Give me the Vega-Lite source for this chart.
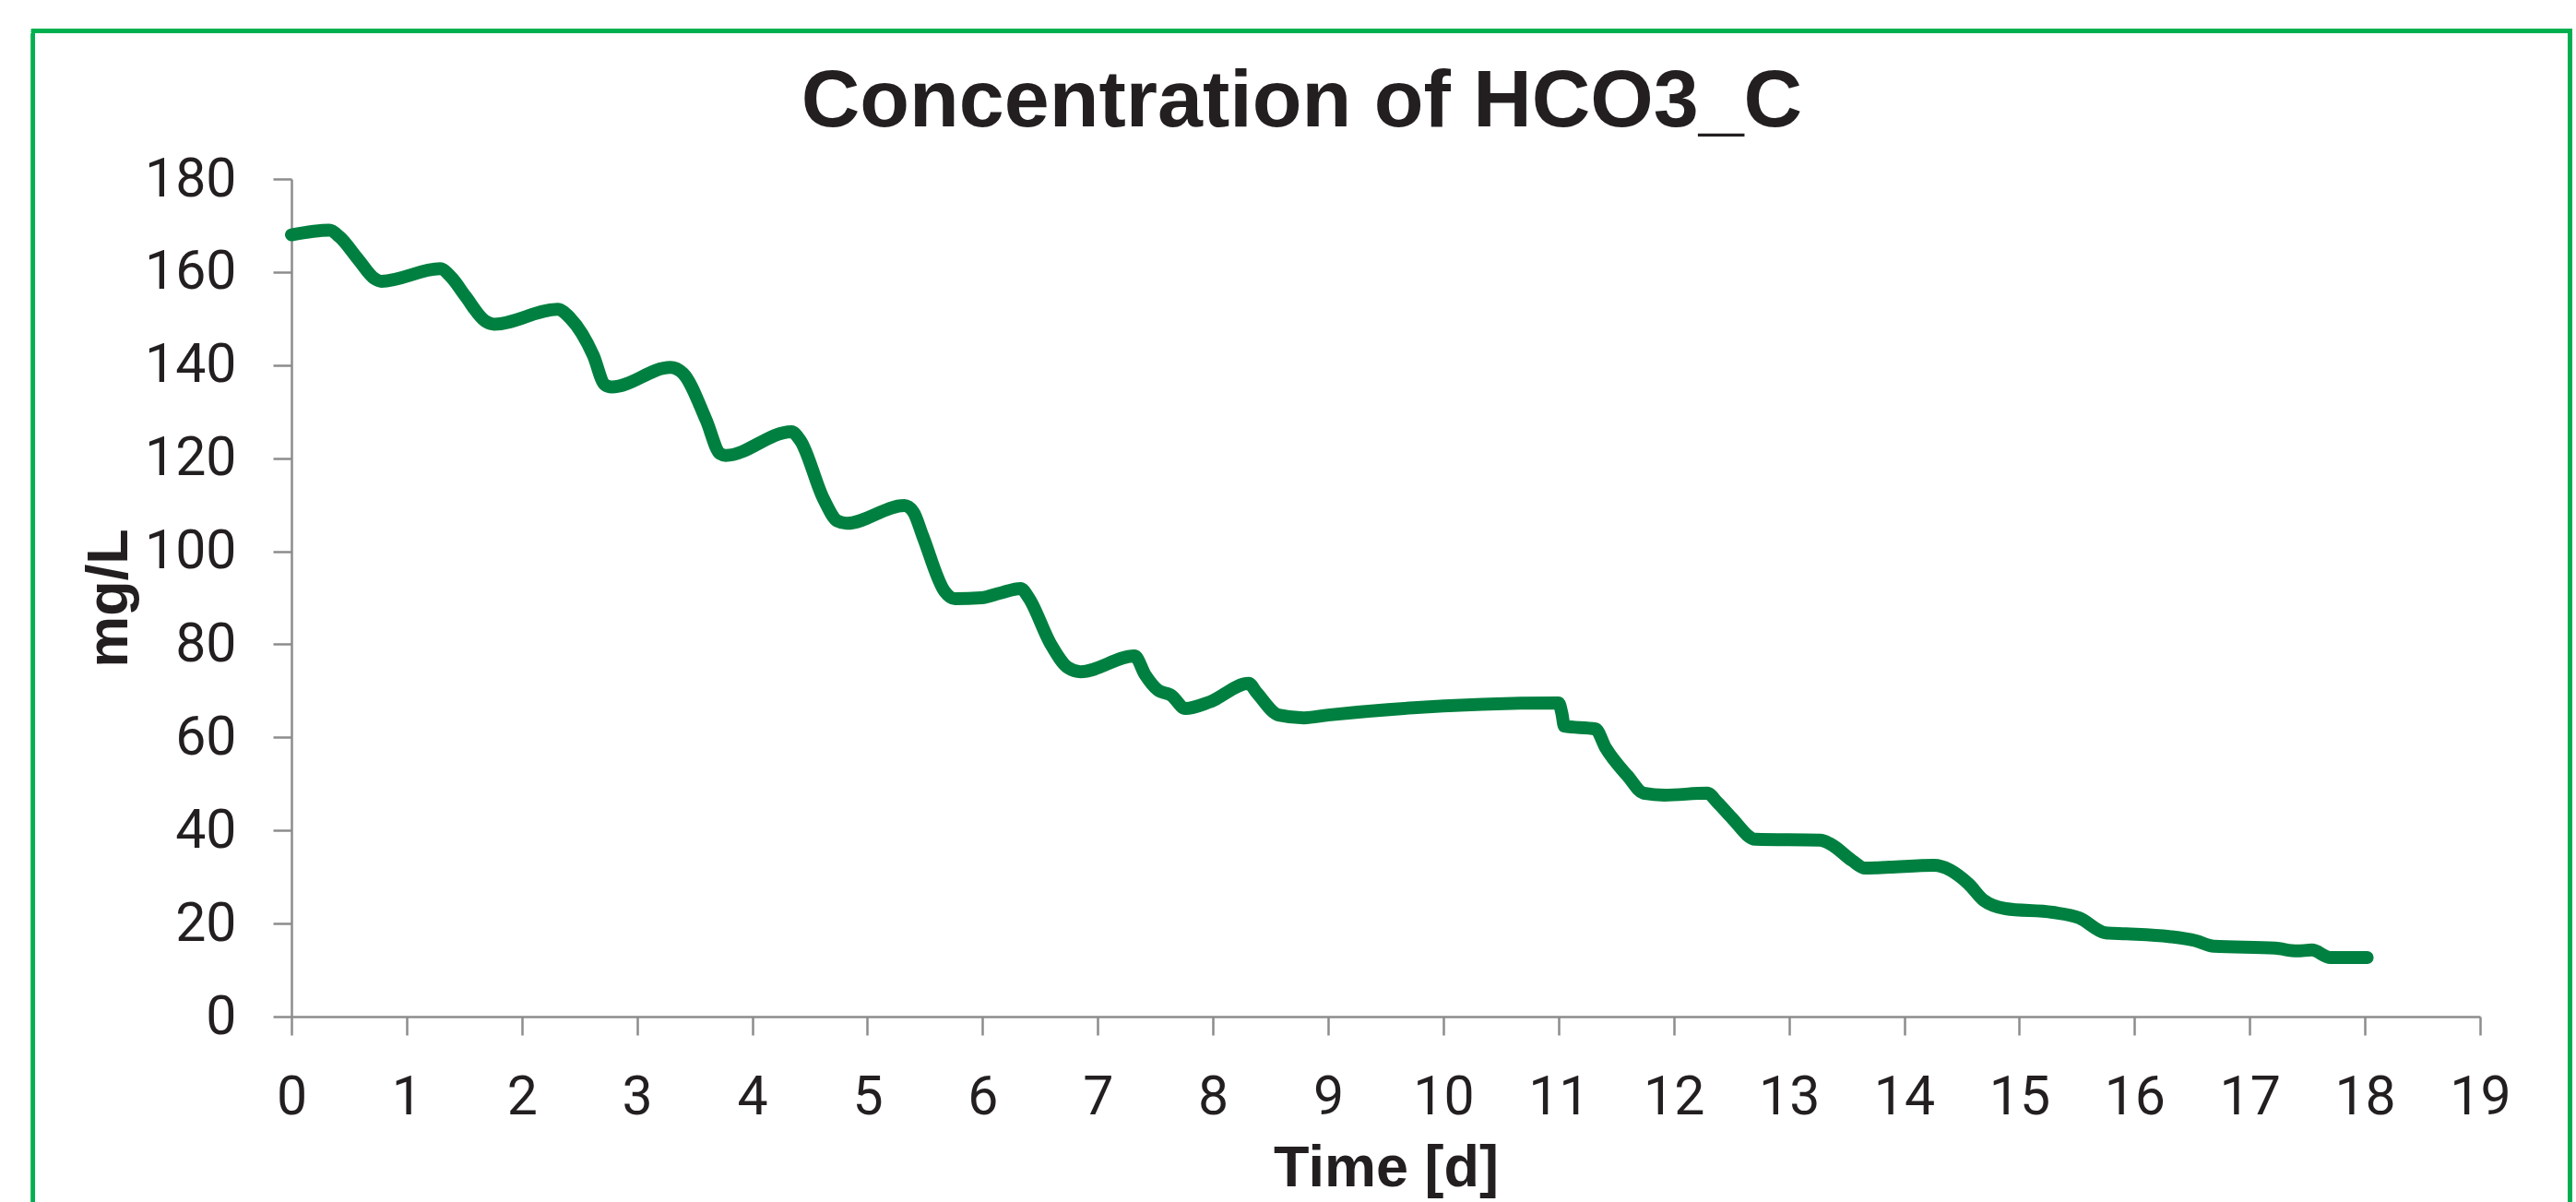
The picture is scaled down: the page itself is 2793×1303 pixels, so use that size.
{
  "$schema": "https://vega.github.io/schema/vega-lite/v6.json",
  "autosize": {"type": "none"},
  "padding": {"left": 316, "top": 194, "right": 104, "bottom": 201},
  "width": 2373,
  "height": 908,
  "background": "white",
  "config": {
    "view": {"stroke": null},
    "axis": {
      "grid": false,
      "domainColor": "#8c8c8c",
      "domainWidth": 2.5,
      "tickColor": "#8c8c8c",
      "tickWidth": 2.5,
      "tickSize": 20,
      "labelFont": "Roboto",
      "labelFontWeight": 400,
      "labelFontSize": 59,
      "labelColor": "#231f20",
      "titleFont": "Liberation Sans",
      "titleFontWeight": "bold",
      "titleFontSize": 63,
      "titleColor": "#231f20"
    },
    "title": {
      "font": "Liberation Sans",
      "fontWeight": "bold",
      "fontSize": 88,
      "color": "#231f20",
      "baseline": "alphabetic",
      "frame": "bounds",
      "offset": -123
    }
  },
  "title": {"text": "Concentration of HCO3_C"},
  "data": {
    "values": [
      {"day": 0, "value": 168.0},
      {"day": 0.33, "value": 169.0},
      {"day": 0.42, "value": 167.5},
      {"day": 0.58, "value": 162.7},
      {"day": 0.72, "value": 158.6},
      {"day": 0.78, "value": 158.0},
      {"day": 1.29, "value": 160.7},
      {"day": 1.39, "value": 158.8},
      {"day": 1.51, "value": 154.8},
      {"day": 1.68, "value": 149.5},
      {"day": 1.76, "value": 148.8},
      {"day": 2.31, "value": 152.0},
      {"day": 2.42, "value": 150.1},
      {"day": 2.62, "value": 142.1},
      {"day": 2.72, "value": 135.8},
      {"day": 2.78, "value": 135.3},
      {"day": 3.29, "value": 139.5},
      {"day": 3.40, "value": 138.2},
      {"day": 3.60, "value": 128.2},
      {"day": 3.72, "value": 121.0},
      {"day": 3.77, "value": 120.6},
      {"day": 4.34, "value": 125.7},
      {"day": 4.42, "value": 123.7},
      {"day": 4.62, "value": 111.2},
      {"day": 4.74, "value": 106.5},
      {"day": 4.82, "value": 106.0},
      {"day": 5.32, "value": 109.8},
      {"day": 5.40, "value": 108.4},
      {"day": 5.48, "value": 103.3},
      {"day": 5.67, "value": 91.4},
      {"day": 5.76, "value": 89.8},
      {"day": 5.99, "value": 90.0},
      {"day": 6.15, "value": 91.0},
      {"day": 6.33, "value": 92.0},
      {"day": 6.40, "value": 90.0},
      {"day": 6.59, "value": 80.1},
      {"day": 6.74, "value": 75.0},
      {"day": 6.85, "value": 74.1},
      {"day": 7.32, "value": 77.5},
      {"day": 7.41, "value": 73.5},
      {"day": 7.52, "value": 70.2},
      {"day": 7.64, "value": 69.0},
      {"day": 7.76, "value": 66.2},
      {"day": 7.97, "value": 67.6},
      {"day": 8.31, "value": 71.6},
      {"day": 8.38, "value": 69.6},
      {"day": 8.57, "value": 64.8},
      {"day": 8.79, "value": 64.2},
      {"day": 9.00, "value": 64.8},
      {"day": 11.00, "value": 67.4},
      {"day": 11.03, "value": 65.0},
      {"day": 11.05, "value": 62.4},
      {"day": 11.32, "value": 61.8},
      {"day": 11.41, "value": 57.7},
      {"day": 11.60, "value": 51.7},
      {"day": 11.74, "value": 48.0},
      {"day": 11.92, "value": 47.6},
      {"day": 12.29, "value": 48.0},
      {"day": 12.38, "value": 46.0},
      {"day": 12.50, "value": 42.8},
      {"day": 12.71, "value": 38.1},
      {"day": 13.27, "value": 37.9},
      {"day": 13.36, "value": 37.1},
      {"day": 13.55, "value": 33.5},
      {"day": 13.66, "value": 31.9},
      {"day": 13.87, "value": 32.1},
      {"day": 14.26, "value": 32.5},
      {"day": 14.56, "value": 28.5},
      {"day": 14.69, "value": 25.0},
      {"day": 14.88, "value": 23.2},
      {"day": 15.29, "value": 22.4},
      {"day": 15.52, "value": 21.2},
      {"day": 15.75, "value": 18.0},
      {"day": 15.93, "value": 17.8},
      {"day": 16.30, "value": 17.2},
      {"day": 16.53, "value": 16.3},
      {"day": 16.69, "value": 15.1},
      {"day": 17.22, "value": 14.7},
      {"day": 17.41, "value": 14.1},
      {"day": 17.54, "value": 14.3},
      {"day": 17.70, "value": 12.7},
      {"day": 18.02, "value": 12.7}
    ]
  },
  "layer": [
    {
      "mark": {"type": "rect", "fill": null, "stroke": "#00b050", "strokeWidth": 4, "clip": false},
      "encoding": {
        "x": {"datum": -2.242, "type": "quantitative", "scale": {"domain": [0, 19]}},
        "x2": {"datum": 19.784},
        "y": {"datum": 211.8, "type": "quantitative", "scale": {"domain": [0, 180]}},
        "y2": {"datum": -60}
      }
    },
    {
      "mark": {"type": "line", "color": "#008040", "strokeWidth": 14, "strokeCap": "round", "strokeJoin": "round", "interpolate": "monotone"},
      "encoding": {
        "x": {
          "field": "day",
          "type": "quantitative",
          "scale": {"domain": [0, 19], "nice": false, "zero": true},
          "axis": {
            "title": "Time [d]",
            "format": "d",
            "values": [0,1,2,3,4,5,6,7,8,9,10,11,12,13,14,15,16,17,18,19],
            "labelPadding": 38,
            "titlePadding": 16,
            "labelFlush": false
          }
        },
        "y": {
          "field": "value",
          "type": "quantitative",
          "scale": {"domain": [0, 180], "nice": false},
          "axis": {
            "title": "mg/L",
            "format": "d",
            "values": [0,20,40,60,80,100,120,140,160,180],
            "labelPadding": 40,
            "titlePadding": 6
          }
        }
      }
    }
  ]
}
